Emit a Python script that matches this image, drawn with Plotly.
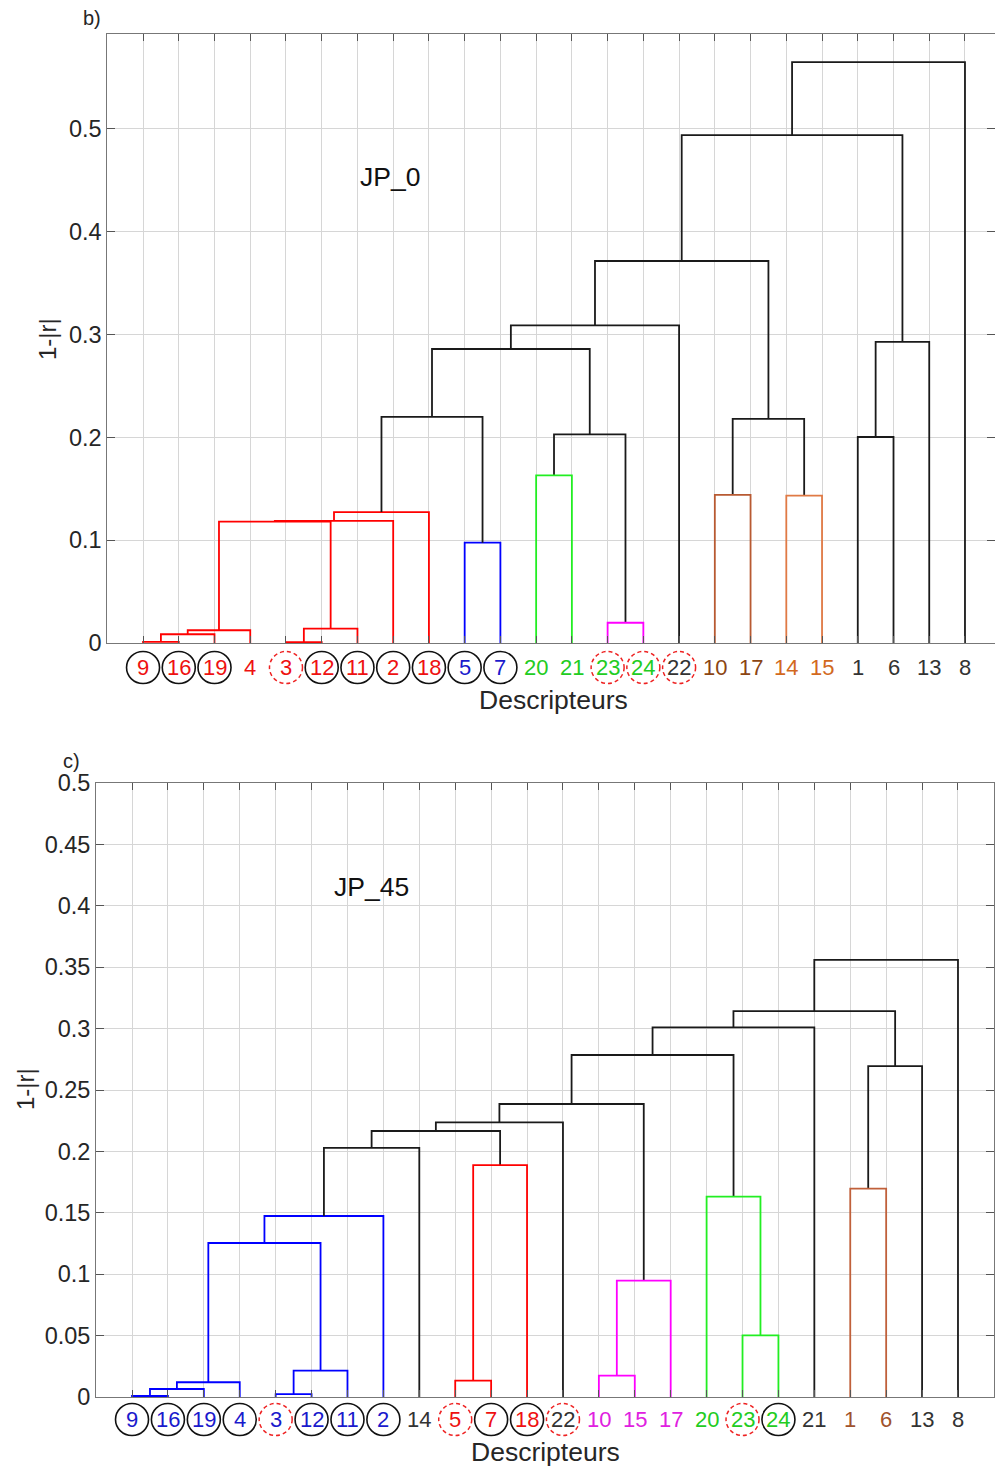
import plotly.graph_objects as go

# ---------------- data : panel b) JP_0 ----------------
leaves_b = [9, 16, 19, 4, 3, 12, 11, 2, 18, 5, 7, 20, 21, 23, 24, 22, 10, 17, 14, 15, 1, 6, 13, 8]
label_col_b = ["R", "R", "R", "R", "R", "R", "R", "R", "R", "B", "B", "G", "G", "G", "G", "K",
               "BR", "BR", "OR", "OR", "K", "K", "K", "K"]
circle_b = ["s", "s", "s", "", "d", "s", "s", "s", "s", "s", "s", "", "", "d", "d", "d",
            "", "", "", "", "", "", "", ""]
# merges: cluster k (1-based) is named "c{k}"
link_left_b = [9, "c1", "c2", 3, "c4", "c3", "c6", "c7", 5, "c8", 20, 23, "c11", "c10", "c14",
               10, 14, "c16", "c15", 1, "c20", "c19", "c22"]
link_right_b = [16, 19, 4, 12, 11, "c5", 2, 18, 7, "c9", 21, 24, "c12", "c13", 22,
                17, 15, "c17", "c18", 6, 13, "c21", 8]
link_height_b = [0.001, 0.0085, 0.0124, 0.0008, 0.014, 0.118, 0.1187, 0.1274, 0.0976, 0.220,
                 0.163, 0.0197, 0.203, 0.286, 0.309, 0.144, 0.1433, 0.218, 0.3716, 0.2004,
                 0.293, 0.494, 0.565]
link_color_b = ["R", "R", "R", "R", "R", "R", "R", "R", "B", "K", "G", "M", "K", "K", "K",
                "BR", "OR", "K", "K", "K", "K", "K", "K"]
yticks_b = [0, 0.1, 0.2, 0.3, 0.4, 0.5]

# ---------------- data : panel c) JP_45 ----------------
leaves_c = [9, 16, 19, 4, 3, 12, 11, 2, 14, 5, 7, 18, 22, 10, 15, 17, 20, 23, 24, 21, 1, 6, 13, 8]
label_col_c = ["B", "B", "B", "B", "B", "B", "B", "B", "K", "R", "R", "R", "K", "M", "M", "M",
               "G", "G", "G", "K", "BR2", "BR2", "K", "K"]
circle_c = ["s", "s", "s", "s", "d", "s", "s", "s", "", "d", "s", "s", "d", "", "", "",
            "", "d", "s", "", "", "", "", ""]
link_left_c = [9, "c1", "c2", 3, "c4", "c3", "c6", "c7", 5, "c9", "c8", "c11", 10, "c13",
               "c12", 23, 20, "c15", "c18", 1, "c20", "c19", "c22"]
link_right_c = [16, 19, 4, 12, 11, "c5", 2, 14, 7, 18, "c10", 22, 15, 17,
                "c14", 24, "c16", "c17", 21, 6, 13, "c21", 8]
link_height_c = [0.0008, 0.0065, 0.012, 0.0024, 0.0214, 0.1254, 0.1474, 0.2028, 0.0133, 0.1889,
                 0.2166, 0.2237, 0.0174, 0.0947, 0.2386, 0.0502, 0.1631, 0.2785, 0.301, 0.1697,
                 0.2695, 0.3143, 0.3559]
link_color_c = ["B", "B", "B", "B", "B", "B", "B", "K", "R", "R", "K", "K", "M", "M", "K",
                "G", "G", "K", "K", "BR2", "K", "K", "K"]
yticks_c = [0, 0.05, 0.1, 0.15, 0.2, 0.25, 0.3, 0.35, 0.4, 0.45, 0.5]

# ---------------- styles ----------------
line_colors = {"R": "#ff0000", "B": "#0000ff", "G": "#22ee22", "M": "#ff00ff", "K": "#1a1a1a",
               "BR": "#b85a32", "OR": "#e07a45", "BR2": "#c0603a"}
text_colors = {"R": "#ee1111", "B": "#1a1acc", "G": "#22cc22", "M": "#e020e0", "K": "#333333",
               "BR": "#8b4513", "OR": "#d2691e", "BR2": "#a0522d"}
FONT = "Liberation Sans, Arial, Helvetica, sans-serif"
TXT = "#262626"
W, H = 995, 1470


def build_links(leaves, lefts, rights, heights, colors):
    pos = {lab: i + 1 for i, lab in enumerate(leaves)}
    hgt = {lab: 0.0 for lab in leaves}
    segs = {}
    for k, (a, b, h, c) in enumerate(zip(lefts, rights, heights, colors), start=1):
        xa, xb = pos[a], pos[b]
        ha, hb = hgt[a], hgt[b]
        xs, ys = segs.setdefault(c, ([], []))
        xs += [xa, xa, xb, xb, None]
        ys += [ha, h, h, hb, None]
        name = "c%d" % k
        pos[name] = (xa + xb) / 2
        hgt[name] = h
    return segs


fig = go.Figure()

panels = [
    dict(leaves=leaves_b, lc=label_col_b, circ=circle_b, L=link_left_b, R=link_right_b,
         Hh=link_height_b, C=link_color_b, xa="x", ya="y", xb="x3", yb="y3",
         xdom=[107.3 / W, 1.0], xrange=[0, 24.84], ydom=[1 - 643 / H, 1 - 34 / H],
         yrange=[0, 0.5924], yticks=yticks_b, band=[1 - 690 / H, 1 - 645 / H]),
    dict(leaves=leaves_c, lc=label_col_c, circ=circle_c, L=link_left_c, R=link_right_c,
         Hh=link_height_c, C=link_color_c, xa="x2", ya="y2", xb="x4", yb="y4",
         xdom=[96.1 / W, 993.9 / W], xrange=[0, 25], ydom=[1 - 1397 / H, 1 - 783 / H],
         yrange=[0, 0.5], yticks=yticks_c, band=[1 - 1442 / H, 1 - 1397 / H]),
]

shapes = []
annots = []
layout_axes = {}
for i, p in enumerate(panels):
    segs = build_links(p["leaves"], p["L"], p["R"], p["Hh"], p["C"])
    for c, (xs, ys) in segs.items():
        fig.add_trace(go.Scatter(x=xs, y=ys, mode="lines", xaxis=p["xa"], yaxis=p["ya"],
                                 line=dict(color=line_colors[c], width=1.8),
                                 hoverinfo="skip", showlegend=False))
    # invisible trace on label band axes
    fig.add_trace(go.Scatter(x=[1], y=[0], mode="markers", marker=dict(opacity=0),
                             xaxis=p["xb"], yaxis=p["yb"], showlegend=False, hoverinfo="skip"))
    n = len(p["leaves"])
    xn = p["xa"].replace("x", "xaxis")
    yn = p["ya"].replace("y", "yaxis")
    xbn = p["xb"].replace("x", "xaxis")
    ybn = p["yb"].replace("y", "yaxis")
    layout_axes[xn] = dict(domain=p["xdom"], range=p["xrange"], anchor=p["ya"],
                           tickvals=list(range(1, n + 1)), showticklabels=False,
                           ticks="inside", ticklen=7, tickcolor="#555555",
                           showgrid=True, gridcolor="#d6d6d6", gridwidth=1,
                           showline=True, linecolor="#777777", linewidth=1, mirror="ticks",
                           zeroline=False, fixedrange=True, automargin=False)
    layout_axes[yn] = dict(domain=p["ydom"], range=p["yrange"], anchor=p["xa"],
                           tickvals=p["yticks"], ticktext=[("%g" % v) for v in p["yticks"]],
                           ticks="inside", ticklen=8, tickcolor="#555555",
                           tickfont=dict(family=FONT, size=23.5, color=TXT),
                           showgrid=True, gridcolor="#d6d6d6", gridwidth=1,
                           showline=True, linecolor="#777777", linewidth=1, mirror="ticks",
                           zeroline=False, fixedrange=True, automargin=False)
    layout_axes[xbn] = dict(domain=p["xdom"], range=p["xrange"], anchor=p["yb"],
                            visible=False, fixedrange=True, automargin=False)
    layout_axes[ybn] = dict(domain=p["band"], range=[-1, 1], anchor=p["xb"],
                            visible=False, fixedrange=True, automargin=False)
    for j, (lab, col, cir) in enumerate(zip(p["leaves"], p["lc"], p["circ"])):
        x = j + 1
        annots.append(dict(x=x, y=0, xref=p["xb"], yref=p["yb"], text=str(lab),
                           xanchor="center", yanchor="middle",
                           showarrow=False, font=dict(family=FONT, size=22,
                                                      color=text_colors[col])))
        if cir:
            shapes.append(dict(type="circle", xref=p["xb"], yref=p["yb"],
                               xsizemode="pixel", ysizemode="pixel", xanchor=x, yanchor=0,
                               x0=-16.5, x1=16.5, y0=-16, y1=16,
                               line=dict(color="#111111" if cir == "s" else "#ee2222",
                                         width=1.6 if cir == "s" else 1.5,
                                         dash="solid" if cir == "s" else "4px,3px")))


def note(x, y, text, size, xref="paper", yref="paper", angle=0, color=TXT):
    return dict(x=x, y=y, xref=xref, yref=yref, text=text, showarrow=False,
                xanchor="center", yanchor="middle", textangle=angle,
                font=dict(family=FONT, size=size, color=color))


# panel texts
annots += [
    note(7.91, 0.4533, "JP_0", 26.5, "x", "y", color="#111111"),
    note(7.655, 0.4153, "JP_45", 26.5, "x2", "y2", color="#111111"),
    note(92 / W, 1 - 18 / H, "b)", 20),
    note(71 / W, 1 - 761 / H, "c)", 20),
    note(553 / W, 1 - 700 / H, "Descripteurs", 26.5),
    note(545 / W, 1 - 1452 / H, "Descripteurs", 26.5),
    note(47 / W, 1 - 339 / H, "1-|r|", 24, angle=-90),
    note(25 / W, 1 - 1089 / H, "1-|r|", 24, angle=-90),
]

fig.update_layout(width=W, height=H, margin=dict(l=0, r=0, t=0, b=0, pad=0, autoexpand=False),
                  template="none", paper_bgcolor="white", plot_bgcolor="white",
                  shapes=shapes, annotations=annots, showlegend=False, **layout_axes)

fig.write_html("out.html", config={"displayModeBar": False},
               post_script="document.body.style.margin='0px';"
                           "document.body.style.overflow='hidden';")
